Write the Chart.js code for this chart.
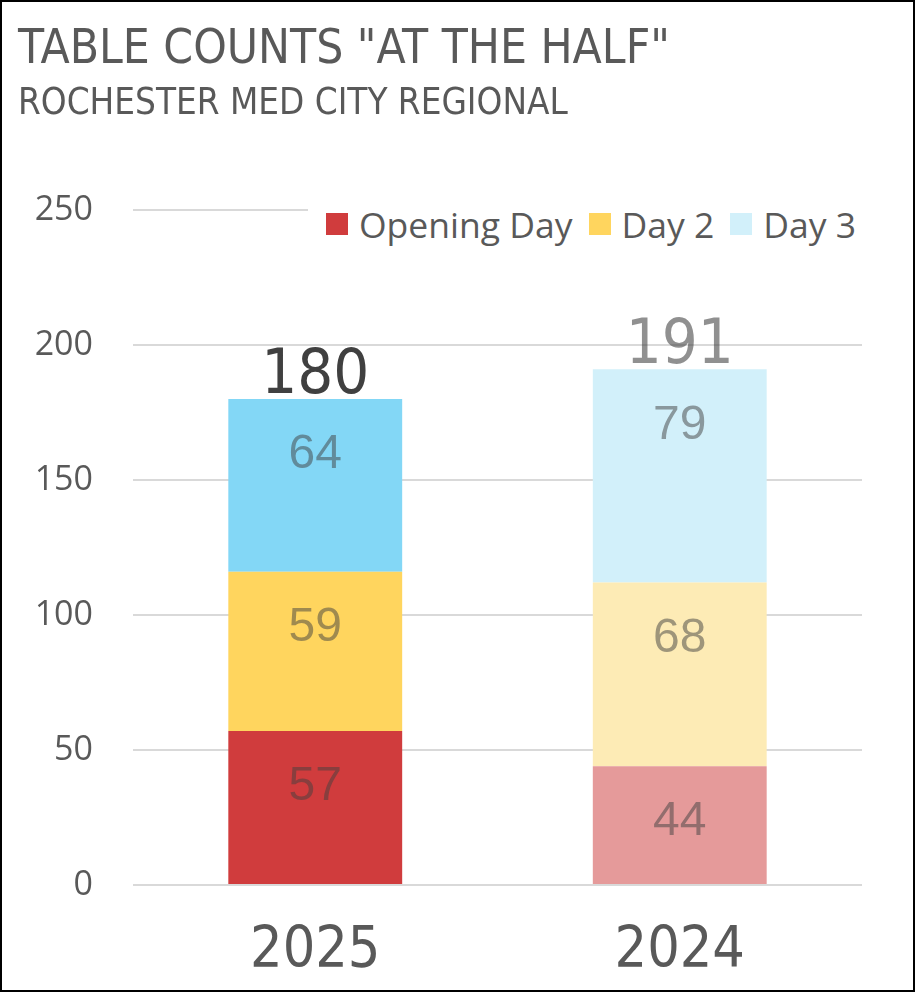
<!DOCTYPE html>
<html>
<head>
<meta charset="utf-8">
<script src="https://cdn.jsdelivr.net/npm/chart.js@4"></script>
<style>
  html, body { margin: 0; padding: 0; background: #fff; }
  #wrap { position: relative; width: 915px; height: 992px; box-sizing: border-box; border: 2px solid #000; background: #fff; overflow: hidden; }
  #c { position: absolute; left: -2px; top: -2px; }
  #title { position: absolute; left: 16px; top: 17px; font-family: 'DejaVu Sans Condensed', sans-serif; font-size: 47.5px; color: #595959; white-space: nowrap; }
  #subtitle { position: absolute; left: 16px; top: 78px; font-family: 'DejaVu Sans Condensed', sans-serif; font-size: 36.5px; color: #595959; white-space: nowrap; }
  #legend { position: absolute; left: 306px; top: 194px; width: 566px; height: 56px; background: #fff; display: flex; align-items: center; font-family: 'Open Sans', sans-serif; font-size: 35.5px; color: #595959; }
  #legend .item { display: flex; align-items: center; margin-left: 16px; }
  #legend .item:first-child { margin-left: 18px; }
  #legend .sw { width: 22px; height: 22px; margin-right: 11px; }
</style>
</head>
<body>
<div id="wrap">
  <canvas id="c" width="915" height="992"></canvas>
  <div id="title">TABLE COUNTS "AT THE HALF"</div>
  <div id="subtitle">ROCHESTER MED CITY REGIONAL</div>
  <div id="legend"></div>
</div>
<script>
// ---- data ----
const categories = ['2025', '2024'];
const openingDay = [57, 44];
const day2 = [59, 68];
const day3 = [64, 79];
const seriesNames = ['Opening Day', 'Day 2', 'Day 3'];
const yTicks = [0, 50, 100, 150, 200, 250];

// ---- styles ----
const colOpening = ['#D03C3D', '#E59A9A'];
const colDay2 = ['#FFD55E', '#FDEBB5'];
const colDay3 = ['#83D7F6', '#D2F0FA'];
const legendColors = ['#D03C3D', '#FFD55E', '#D2F0FA'];
const totalColors = ['#404040', 'rgba(64,64,64,0.58)'];

const legendEl = document.getElementById('legend');
seriesNames.forEach((n, i) => {
  const it = document.createElement('div');
  it.className = 'item';
  it.innerHTML = '<span class="sw" style="background:' + legendColors[i] + '"></span><span>' + n + '</span>';
  legendEl.appendChild(it);
});

const labelPlugin = {
  id: 'barLabels',
  afterDatasetsDraw(chart) {
    const ctx = chart.ctx;
    ctx.save();
    ctx.textAlign = 'center';
    ctx.textBaseline = 'middle';
    ctx.font = '48px "Liberation Sans", Arial, sans-serif';
    chart.data.datasets.forEach((ds, i) => {
      const meta = chart.getDatasetMeta(i);
      meta.data.forEach((bar, j) => {
        const top = Math.min(bar.y, bar.base);
        ctx.fillStyle = 'rgba(64,64,64,0.5)';
        ctx.fillText(String(ds.data[j]), bar.x, top + 56);
      });
    });
    // totals
    const last = chart.getDatasetMeta(chart.data.datasets.length - 1);
    ctx.font = '63px "DejaVu Sans Condensed", sans-serif';
    ctx.textBaseline = 'alphabetic';
    last.data.forEach((bar, j) => {
      const total = chart.data.datasets.reduce((s, ds) => s + ds.data[j], 0);
      ctx.fillStyle = totalColors[j];
      ctx.fillText(String(total), bar.x, bar.y - 6);
    });
    ctx.restore();
  }
};

new Chart(document.getElementById('c'), {
  type: 'bar',
  data: {
    labels: categories,
    datasets: [
      { label: seriesNames[0], data: openingDay, backgroundColor: colOpening },
      { label: seriesNames[1], data: day2, backgroundColor: colDay2 },
      { label: seriesNames[2], data: day3, backgroundColor: colDay3 }
    ]
  },
  options: {
    responsive: false,
    animation: false,
    devicePixelRatio: 1,
    layout: { padding: { left: 0, right: 53, top: 210, bottom: 0 } },
    plugins: { legend: { display: false }, tooltip: { enabled: false }, title: { display: false } },
    datasets: { bar: { categoryPercentage: 1, barPercentage: 0.477, borderWidth: 0 } },
    scales: {
      x: {
        stacked: true,
        grid: { display: false },
        border: { display: false },
        ticks: { color: '#595959', font: { family: '"DejaVu Sans Condensed", sans-serif', size: 57 }, padding: 25 },
        afterFit(scale) { scale.height = 107; }
      },
      y: {
        stacked: true,
        min: 0, max: 250,
        afterBuildTicks(scale) { scale.ticks = yTicks.map(v => ({ value: v })); },
        grid: { color: '#D9D9D9', lineWidth: 2, drawTicks: false },
        border: { display: false },
        ticks: { color: '#595959', font: { family: '"Open Sans", sans-serif', size: 34 }, padding: 40 },
        afterFit(scale) { scale.width = 133; }
      }
    }
  },
  plugins: [labelPlugin]
});
</script>
</body>
</html>
